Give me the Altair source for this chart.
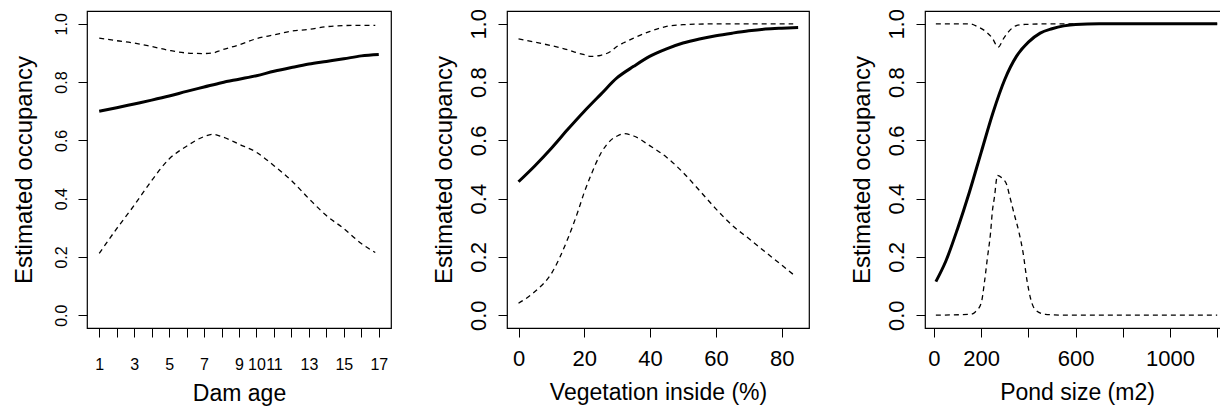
import altair as alt
import pandas as pd

# ---------------- data ----------------
dam_x = [1, 2, 3, 4, 5, 6, 7, 8, 9, 10, 11, 12, 13, 14, 15, 16, 17]
dam_est = [0.700, 0.712, 0.725, 0.738, 0.752, 0.768, 0.783, 0.798, 0.810,
           0.822, 0.837, 0.850, 0.862, 0.871, 0.880, 0.890, 0.895]
dam_ci_x = [1, 2, 3, 4, 5, 6, 7, 7.5, 8, 9, 10, 11, 12, 13, 14, 15, 16, 16.8]
dam_upper = [0.951, 0.942, 0.934, 0.922, 0.909, 0.900, 0.898, 0.900, 0.910,
             0.928, 0.949, 0.962, 0.975, 0.981, 0.990, 0.994, 0.995, 0.995]
dam_lower = [0.212, 0.297, 0.377, 0.462, 0.536, 0.580, 0.613, 0.621, 0.613,
             0.587, 0.559, 0.513, 0.462, 0.400, 0.342, 0.297, 0.246, 0.215]

veg_x = [0, 5, 10, 15, 20, 25, 30, 35, 40, 45, 50, 55, 60, 65, 70, 75, 80, 85]
veg_est = [0.458, 0.513, 0.573, 0.638, 0.700, 0.758, 0.815, 0.854, 0.889,
           0.914, 0.934, 0.948, 0.959, 0.968, 0.976, 0.982, 0.985, 0.987]
veg_ci_x = [0, 5, 10, 15, 18, 20, 22, 25, 28, 30, 32, 35, 40, 45, 50, 55,
            60, 65, 70, 75, 80, 83.5]
veg_upper = [0.948, 0.937, 0.925, 0.911, 0.900, 0.894, 0.888, 0.892, 0.905,
             0.923, 0.935, 0.951, 0.974, 0.991, 0.997, 0.999, 1.0, 1.0, 1.0,
             1.0, 1.0, 1.0]
veg_lower = [0.041, 0.081, 0.143, 0.263, 0.354, 0.422, 0.480, 0.555, 0.600,
             0.615, 0.623, 0.615, 0.581, 0.542, 0.490, 0.428, 0.365, 0.308,
             0.263, 0.217, 0.172, 0.140]

pond_x = [8, 50, 100, 150, 200, 250, 300, 350, 400, 450, 500, 550, 600, 700,
          800, 1000, 1200]
pond_est = [0.115, 0.185, 0.297, 0.422, 0.559, 0.695, 0.809, 0.889, 0.937,
            0.968, 0.983, 0.993, 0.998, 1.0, 1.0, 1.0, 1.0]
pond_up_x = [8, 150, 183, 219, 247, 272, 296, 324, 346, 388, 500, 1200]
pond_upper = [1.0, 1.0, 0.991, 0.974, 0.951, 0.920, 0.951, 0.980, 0.993,
              0.998, 1.0, 1.0]
pond_lo_x = [8, 155, 176, 200, 214, 226, 240, 247, 257, 265, 268, 289, 310,
             317, 339, 360, 377, 395, 409, 430, 472, 550, 1200]
pond_lower = [0.0, 0.003, 0.012, 0.041, 0.114, 0.194, 0.285, 0.353, 0.410,
              0.467, 0.480, 0.470, 0.444, 0.421, 0.350, 0.285, 0.217, 0.115,
              0.058, 0.018, 0.003, 0.0, 0.0]

y_ticks = [0, 0.2, 0.4, 0.6, 0.8, 1.0]
FONT = "Liberation Sans"
H = 317


def panel(est_x, est_y, up_x, up_y, lo_x, lo_y, xdomain, xtitle, xvalues,
          xlabels, width, label_fs, x_lab_pad, y_lab_pad, y_title_pad,
          x_title_pad):
    shown = ",".join(str(v) for v in xlabels)
    x_axis = alt.Axis(
        title=xtitle, values=xvalues, tickCount=40, format="d", grid=False,
        domain=False, tickSize=9, tickColor="black", tickWidth=1,
        labelFont=FONT, labelFontSize=label_fs, labelColor="black",
        labelPadding=x_lab_pad, labelOverlap=False, labelFlush=False,
        labelExpr=f"indexof([{shown}], datum.value) >= 0 ? datum.label : ''",
        titleFont=FONT, titleFontSize=23, titleFontWeight="normal",
        titleColor="black", titlePadding=x_title_pad,
    )
    y_axis = alt.Axis(
        title="Estimated occupancy", values=y_ticks, tickCount=20, format=".1f",
        grid=False, domain=False, tickSize=9, tickColor="black", tickWidth=1,
        labelFont=FONT, labelFontSize=label_fs, labelColor="black",
        labelAngle=270, labelAlign="center", labelBaseline="bottom",
        labelPadding=y_lab_pad, labelOverlap=False, labelFlush=False,
        titleFont=FONT, titleFontSize=24, titleFontWeight="normal",
        titleColor="black", titlePadding=y_title_pad,
    )
    xs = alt.Scale(domain=xdomain, nice=False, zero=False)
    ys = alt.Scale(domain=[-0.044, 1.044], nice=False, zero=False)

    est = pd.DataFrame({"x": est_x, "y": est_y})
    up = pd.DataFrame({"x": up_x, "y": up_y})
    lo = pd.DataFrame({"x": lo_x, "y": lo_y})

    solid = alt.Chart(est).mark_line(
        color="black", strokeWidth=3, interpolate="monotone"
    ).encode(x=alt.X("x:Q", scale=xs, axis=x_axis),
             y=alt.Y("y:Q", scale=ys, axis=y_axis))
    upper = alt.Chart(up).mark_line(
        color="black", strokeWidth=1.3, strokeDash=[5, 4], interpolate="monotone"
    ).encode(x=alt.X("x:Q", scale=xs), y=alt.Y("y:Q", scale=ys))
    lower = alt.Chart(lo).mark_line(
        color="black", strokeWidth=1.3, strokeDash=[5, 4], interpolate="monotone"
    ).encode(x=alt.X("x:Q", scale=xs), y=alt.Y("y:Q", scale=ys))
    return alt.layer(solid, upper, lower).properties(width=width, height=H)


p1 = panel(dam_x, dam_est, dam_ci_x, dam_upper, dam_ci_x, dam_lower,
           [0.3, 17.7], "Dam age", list(range(1, 18)),
           [1, 3, 5, 7, 9, 10, 11, 13, 15, 17], 304, 16, 19, 9, 17, 10)
p2 = panel(veg_x, veg_est, veg_ci_x, veg_upper, veg_ci_x, veg_lower,
           [-3.5, 88.3], "Vegetation inside (%)", [0, 20, 40, 60, 80],
           [0, 20, 40, 60, 80], 302, 22, 11, 8, 11, 12)
p3 = panel(pond_x, pond_est, pond_up_x, pond_upper, pond_lo_x, pond_lower,
           [-38, 1250], "Pond size (m2)", [0, 200, 400, 600, 800, 1000, 1200],
           [0, 200, 600, 1000], 304, 22, 11, 8, 11, 12)

chart = alt.hconcat(p1, p2, p3, spacing=116, bounds="flush").properties(
    autosize=alt.AutoSizeParams(type="none"),
    padding={"left": 79, "top": 3, "right": 1133, "bottom": 395},
    background="white",
).configure_view(stroke="black", strokeWidth=1.2)

chart.save("out.html", embed_options={"renderer": "svg", "actions": False})
